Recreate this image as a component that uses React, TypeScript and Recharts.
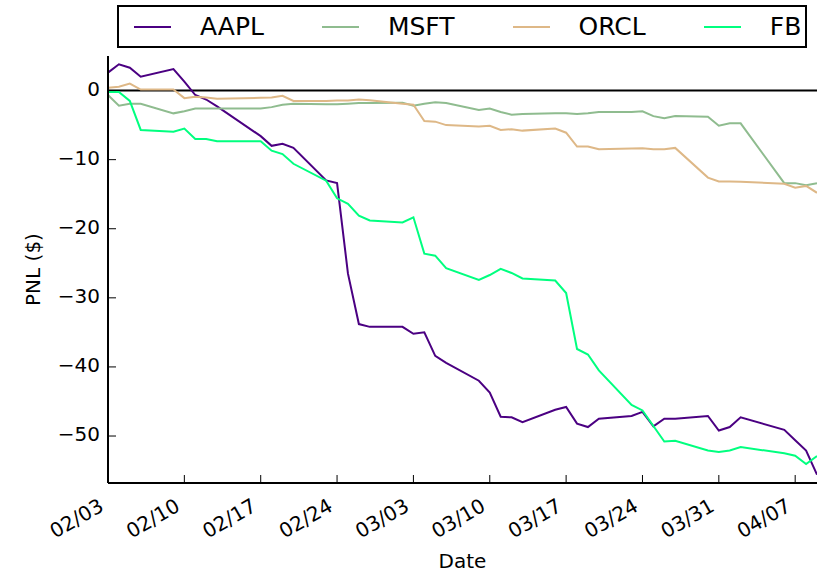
import React from 'react';
import { LineChart, Line, XAxis, YAxis, ReferenceLine } from 'recharts';

const YEAR = 2015;

const tradingDates = [
  '2015-02-03', '2015-02-04', '2015-02-05', '2015-02-06',
  '2015-02-09', '2015-02-10', '2015-02-11', '2015-02-12', '2015-02-13',
  '2015-02-17', '2015-02-18', '2015-02-19', '2015-02-20',
  '2015-02-23', '2015-02-24', '2015-02-25', '2015-02-26', '2015-02-27',
  '2015-03-02', '2015-03-03', '2015-03-04', '2015-03-05', '2015-03-06',
  '2015-03-09', '2015-03-10', '2015-03-11', '2015-03-12', '2015-03-13',
  '2015-03-16', '2015-03-17', '2015-03-18', '2015-03-19', '2015-03-20',
  '2015-03-23', '2015-03-24', '2015-03-25', '2015-03-26', '2015-03-27',
  '2015-03-30', '2015-03-31',
  '2015-04-01', '2015-04-02',
  '2015-04-06', '2015-04-07', '2015-04-08', '2015-04-09',
];

const aapl = [
  2.6, 3.8, 3.3, 2.0,
  3.1, 1.3, -0.65, -1.3, -2.3,
  -6.6, -8.0, -7.7, -8.3,
  -13.0, -13.4, -26.5, -33.8, -34.2,
  -34.2, -35.2, -35.0, -38.4, -39.4,
  -42.0, -43.7, -47.2, -47.3, -48.0,
  -46.2, -45.8, -48.2, -48.7, -47.5,
  -47.1, -46.5, -48.6, -47.5, -47.5,
  -47.1, -49.2,
  -48.7, -47.3,
  -49.1, -50.6, -52.1, -55.6,
];

const msft = [
  -0.65, -2.2, -1.9, -1.9,
  -3.3, -3.0, -2.6, -2.6, -2.6,
  -2.6, -2.4, -2.05, -1.9,
  -2.0, -2.0, -1.9, -1.8, -1.8,
  -1.75, -2.2, -1.9, -1.7, -1.8,
  -2.8, -2.6, -3.1, -3.5, -3.4,
  -3.3, -3.3, -3.4, -3.3, -3.1,
  -3.1, -3.0, -3.7, -4.0, -3.7,
  -3.8, -5.1,
  -4.75, -4.75,
  -13.4, -13.4, -13.7, -13.4,
];

const orcl = [
  0.4, 0.55, 1.0, 0.15,
  0.15, -1.1, -0.9, -1.0, -1.2,
  -1.05, -1.0, -0.75, -1.5,
  -1.5, -1.45, -1.45, -1.3, -1.4,
  -1.9, -2.05, -4.4, -4.5, -5.0,
  -5.2, -5.1, -5.7, -5.6, -5.8,
  -5.5, -6.1, -8.1, -8.1, -8.5,
  -8.4, -8.35, -8.5, -8.5, -8.3,
  -12.6, -13.15,
  -13.15, -13.2,
  -13.5, -14.05, -13.8, -14.8,
];

const fb = [
  -0.2, -0.2, -1.5, -5.7,
  -5.95, -5.5, -7.0, -7.0, -7.35,
  -7.35, -8.7, -9.2, -10.6,
  -13.05, -15.6, -16.4, -18.1, -18.8,
  -19.1, -18.35, -23.6, -23.9, -25.7,
  -27.4, -26.7, -25.8, -26.4, -27.2,
  -27.5, -29.3, -37.4, -38.2, -40.5,
  -45.5, -46.3, -48.55, -50.8, -50.7,
  -52.1, -52.3,
  -52.1, -51.6,
  -52.5, -52.85, -54.05, -52.9,
];

const xTickLabels = ['02/03', '02/10', '02/17', '02/24', '03/03', '03/10', '03/17', '03/24', '03/31', '04/07'];
const yTicks = [0, -10, -20, -30, -40, -50];
const yDomain: [number, number] = [-56.8, 5];

const seriesDefs = [
  { key: 'AAPL', color: '#4B0082', values: aapl },
  { key: 'MSFT', color: '#8FBC8F', values: msft },
  { key: 'ORCL', color: '#DEB887', values: orcl },
  { key: 'FB', color: '#00FF7F', values: fb },
];

const DAY_MS = 86400000;
const toUtc = (s: string) => {
  const [y, m, d] = s.split('-').map(Number);
  return Date.UTC(y, m - 1, d);
};
const t0 = toUtc(tradingDates[0]);
const dayIndex = (s: string) => Math.round((toUtc(s) - t0) / DAY_MS);
const lastDay = dayIndex(tradingDates[tradingDates.length - 1]);

const data = tradingDates.map((d, i) => {
  const row: any = { day: dayIndex(d) };
  seriesDefs.forEach((s) => {
    row[s.key] = s.values[i];
  });
  return row;
});

const xTicks = xTickLabels.map((l) => {
  const [m, d] = l.split('/');
  return dayIndex(`${YEAR}-${m}-${d}`);
});

const FONT = "'DejaVu Sans', sans-serif";

const fmtNum = (v: number) => (v < 0 ? '\u2212' + Math.abs(v) : String(v));

const XTick = (props: any) => {
  const { x, y, payload } = props;
  const idx = xTicks.indexOf(payload.value);
  const label = idx >= 0 ? xTickLabels[idx] : '';
  const ax = x - 3;
  const ay = y + 27;
  return (
    <text
      x={ax}
      y={ay}
      transform={`rotate(-30 ${ax} ${ay})`}
      textAnchor="end"
      fontSize={20}
      fontFamily={FONT}
      fill="#000"
    >
      {label}
    </text>
  );
};

const YTick = (props: any) => {
  const { x, y, payload } = props;
  return (
    <text x={x} y={y + 5} textAnchor="end" fontSize={20} fontFamily={FONT} fill="#000">
      {fmtNum(payload.value)}
    </text>
  );
};

const EmptyTick = () => <g />;

const YLabel = (props: any) => {
  const vb = props.viewBox || {};
  const cy = vb.y != null && vb.height != null ? vb.y + vb.height / 2 : 269.5;
  const cx = 40;
  return (
    <text
      x={cx}
      y={cy}
      transform={`rotate(-90 ${cx} ${cy})`}
      textAnchor="middle"
      fontSize={20}
      fontFamily={FONT}
      fill="#000"
    >
      PNL ($)
    </text>
  );
};

const XLabel = (props: any) => {
  const vb = props.viewBox || {};
  const cx = vb.x != null && vb.width != null ? vb.x + vb.width / 2 : 462.5;
  return (
    <text x={cx} y={568} textAnchor="middle" fontSize={20} fontFamily={FONT} fill="#000">
      Date
    </text>
  );
};

export default function App() {
  return (
    <div style={{ position: 'absolute', left: 0, top: 0, width: 818, height: 577, background: '#fff' }}>
      <LineChart
        width={818}
        height={577}
        data={data}
        margin={{ top: 56, right: 1, bottom: 0, left: 0 }}
      >
        <XAxis
          dataKey="day"
          type="number"
          domain={[0, lastDay]}
          allowDataOverflow
          ticks={xTicks}
          interval={0}
          height={94}
          tickSize={-8}
          tickMargin={8}
          stroke="#000"
          axisLine={{ stroke: '#000', strokeWidth: 2 }}
          tickLine={{ stroke: '#000', strokeWidth: 1 }}
          tick={<XTick />}
          label={<XLabel />}
        />
        <XAxis
          xAxisId="top"
          orientation="top"
          dataKey="day"
          type="number"
          domain={[0, lastDay]}
          allowDataOverflow
          ticks={xTicks}
          interval={0}
          height={0}
          tickSize={-8}
          stroke="#000"
          axisLine={{ stroke: '#000', strokeWidth: 2 }}
          tickLine={{ stroke: '#000', strokeWidth: 1 }}
          tick={<EmptyTick />}
        />
        <YAxis
          type="number"
          domain={yDomain}
          allowDataOverflow
          ticks={yTicks}
          interval={0}
          width={108}
          tickSize={-8}
          tickMargin={16}
          stroke="#000"
          axisLine={{ stroke: '#000', strokeWidth: 2 }}
          tickLine={{ stroke: '#000', strokeWidth: 1 }}
          tick={<YTick />}
          label={<YLabel />}
        />
        <YAxis
          yAxisId="right"
          orientation="right"
          type="number"
          domain={yDomain}
          allowDataOverflow
          ticks={yTicks}
          interval={0}
          width={0}
          tickSize={-8}
          stroke="#000"
          axisLine={{ stroke: '#000', strokeWidth: 2 }}
          tickLine={{ stroke: '#000', strokeWidth: 1 }}
          tick={<EmptyTick />}
        />
        <ReferenceLine y={0} stroke="#000" strokeWidth={2} ifOverflow="hidden" />
        {seriesDefs.map((s) => (
          <Line
            key={s.key}
            type="linear"
            dataKey={s.key}
            stroke={s.color}
            strokeWidth={2}
            dot={false}
            activeDot={false}
            isAnimationActive={false}
          />
        ))}
      </LineChart>
      <div
        style={{
          position: 'absolute',
          left: 117,
          top: 5,
          width: 690,
          height: 43,
          border: '2px solid #000',
          boxSizing: 'border-box',
          display: 'flex',
          alignItems: 'center',
          paddingLeft: 15,
          fontFamily: FONT,
          fontSize: 25,
          background: '#fff',
          whiteSpace: 'nowrap',
        }}
      >
        {seriesDefs.map((s) => (
          <div key={s.key} style={{ display: 'flex', alignItems: 'center', marginRight: 58 }}>
            <div style={{ width: 37, height: 0, borderTop: `2px solid ${s.color}` }} />
            <span style={{ marginLeft: 29, lineHeight: '30px' }}>{s.key}</span>
          </div>
        ))}
      </div>
    </div>
  );
}
